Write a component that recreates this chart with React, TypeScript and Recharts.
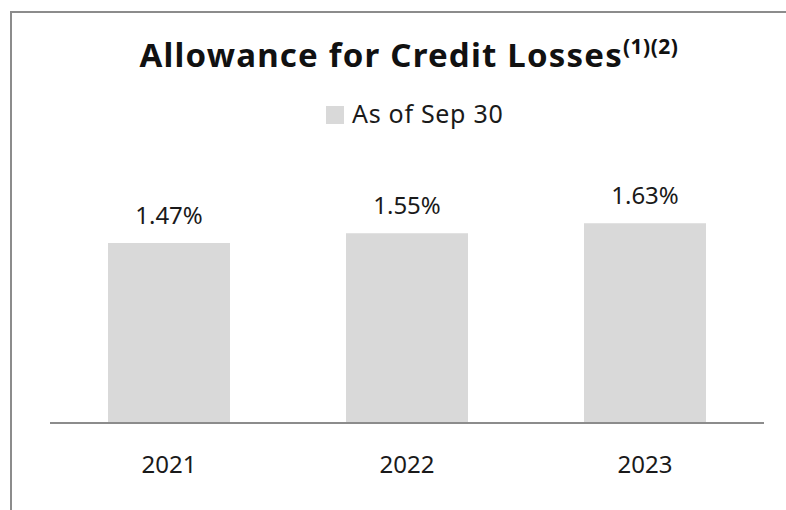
import { BarChart, Bar, XAxis, YAxis, LabelList } from 'recharts';

const years = ['2021', '2022', '2023'];
const allowance = [1.47, 1.55, 1.63];
const seriesName = 'As of Sep 30';

const data = years.map((year, i) => ({ year, value: allowance[i] }));

const FONT = '"Noto Sans", "Open Sans", sans-serif';
const BAR = '#d9d9d9';
const FRAME = '#8c8c8c';

const YearTick = ({ x, y, payload }: any) => (
  <text x={x} y={y} dy={50} textAnchor="middle" fontSize={24} fill="#1a1a1a" fontFamily={FONT}>
    {payload.value}
  </text>
);

export default function App() {
  return (
    <div style={{ position: 'absolute', left: 0, top: 0, width: 786, height: 510, background: '#fff', overflow: 'hidden' }}>
      <div
        style={{
          position: 'absolute',
          left: 10,
          top: 11,
          width: 820,
          height: 540,
          borderLeft: `2px solid ${FRAME}`,
          borderTop: `2px solid ${FRAME}`,
        }}
      />
      <svg width={786} height={140} style={{ position: 'absolute', left: 0, top: 0 }}>
        <text x={409} y={67} textAnchor="middle" fontFamily={FONT} fontWeight={700} fontSize={33} fill="#111" letterSpacing={1.2}>
          Allowance for Credit Losses
          <tspan fontSize={21} dy={-13} letterSpacing={0.5}>(1)(2)</tspan>
        </text>
        <rect x={326} y={106} width={18} height={18} fill={BAR} />
        <text x={352} y={123} fontFamily={FONT} fontSize={25} fill="#1a1a1a" letterSpacing={0.7}>
          {seriesName}
        </text>
      </svg>
      <div style={{ position: 'absolute', left: 0, top: 0 }}>
        <BarChart width={786} height={510} data={data} margin={{ top: 178, right: 22, bottom: 57, left: 50 }}>
          <XAxis
            dataKey="year"
            height={30}
            tickLine={false}
            tickSize={0}
            tickMargin={0}
            stroke={FRAME}
            strokeWidth={2}
            tick={<YearTick />}
          />
          <YAxis hide domain={[0, 2]} />
          <Bar dataKey="value" name={seriesName} fill={BAR} barSize={122} isAnimationActive={false}>
            <LabelList
              dataKey="value"
              position="top"
              offset={19}
              formatter={(v: any) => `${Number(v).toFixed(2)}%`}
              fontSize={24}
              fill="#1a1a1a"
              fontFamily={FONT}
            />
          </Bar>
        </BarChart>
      </div>
    </div>
  );
}
